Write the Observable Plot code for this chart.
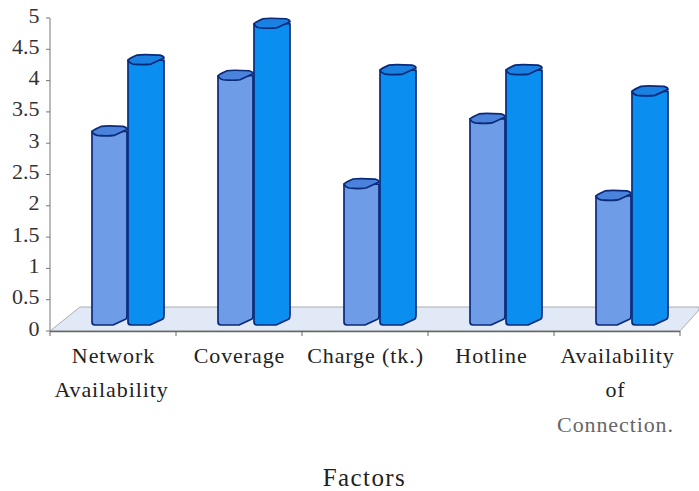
<!DOCTYPE html>
<html>
<head>
<meta charset="utf-8">
<script src="https://cdn.jsdelivr.net/npm/d3@7"></script>
<script src="https://cdn.jsdelivr.net/npm/@observablehq/plot@0.6"></script>
<style>
  html, body { margin: 0; padding: 0; background: #fff; }
  svg { display: block; }
  .category-label text { letter-spacing: 0.9px; }
  .axis-title text { letter-spacing: 1.4px; }
</style>
</head>
<body>
<script>
const factors = ["Network Availability", "Coverage", "Charge (tk.)", "Hotline", "Availability of Connection."];
const firstLine = ["Network", "Coverage", "Charge (tk.)", "Hotline", "Availability"];
const secondLine = ["Availability", "", "", "", "of"];
const thirdLine = ["", "", "", "", "Connection."];
const lightValues = [3.06, 3.95, 2.22, 3.26, 2.03];
const brightValues = [4.2, 4.78, 4.04, 4.04, 3.7];
const yTicks = [0, 0.5, 1, 1.5, 2, 2.5, 3, 3.5, 4, 4.5, 5];

const serif = "'Liberation Serif', serif";
const SVG = "http://www.w3.org/2000/svg";

function svgEl(name, attrs) {
  const el = document.createElementNS(SVG, name);
  for (const k in attrs) el.setAttribute(k, attrs[k]);
  return el;
}

// Raised floor plane behind the columns, with the category axis along its front edge.
function floorPlane(index, scales, values, dims) {
  const g = svgEl("g", {});
  const y0 = scales.y(0);
  const left = dims.marginLeft;
  const right = dims.width - dims.marginRight;
  g.append(svgEl("path", {
    d: `M${left},${y0}L${left + 30},${y0 - 24}H${dims.width}V${y0 - 21}L${right},${y0}Z`,
    fill: "#e1e9f7", stroke: "#a9adb3", "stroke-width": 1
  }));
  g.append(svgEl("path", {d: `M${left},${y0 + 0.5}H${right}`, stroke: "#666", "stroke-width": 1.3}));
  const band = (right - left) / factors.length;
  for (let i = 0; i <= factors.length; i++) {
    const x = left + band * i;
    g.append(svgEl("path", {d: `M${x},${y0}v5`, stroke: "#666", "stroke-width": 1}));
  }
  // Value axis line and its tick marks
  g.append(svgEl("path", {d: `M${left},${scales.y(5)}V${y0}`, stroke: "#777", "stroke-width": 1}));
  for (const v of yTicks) {
    g.append(svgEl("path", {d: `M${left - 4},${scales.y(v)}h4`, stroke: "#777", "stroke-width": 1}));
  }
  return g;
}

// A faceted column: the bar's scaled extent is drawn as a prism with a slanted top and foot.
function column(lead, barWidth, bodyFill, capFill) {
  return (index, scales, values) => {
    const g = svgEl("g", {});
    for (const i of index) {
      const x0 = values.x[i] + lead;
      const x1 = x0 + barWidth;
      const t = values.y2[i] - 8;
      const b = scales.y(0) - 8;
      g.append(svgEl("path", {
        d: `M${x0},${t}V${b - 1}Q${x0},${b + 2} ${x0 + 3},${b + 2}H${x1 - 14}L${x1 - 1},${b - 4}Q${x1},${b - 5} ${x1},${b - 8}V${t}Z`,
        fill: bodyFill, stroke: "#0b2a78", "stroke-width": 1.7, "stroke-linejoin": "round"
      }));
      g.append(svgEl("path", {
        d: `M${x0},${t}Q${x0 + 2},${t - 2} ${x0 + 9},${t - 5}Q${x0 + 14},${t - 6} ${x1 - 4},${t - 5}Q${x1},${t - 4} ${x1},${t - 2}L${x1 - 13},${t + 4}Q${x1 - 20},${t + 5} ${x0 + 5},${t + 4}Q${x0 + 1},${t + 3} ${x0},${t}Z`,
        fill: capFill, stroke: "#0b2a78", "stroke-width": 1.7, "stroke-linejoin": "round"
      }));
    }
    return g;
  };
}

const labelStyle = {fontFamily: serif, fontSize: 22, fill: "#222", className: "category-label"};
const rows = factors.map((f, i) => ({f, light: lightValues[i], bright: brightValues[i],
  a: firstLine[i], b: secondLine[i], c: thirdLine[i]}));

const chart = Plot.plot({
  width: 699,
  height: 491,
  marginLeft: 50,
  marginRight: 19,
  marginTop: 18,
  marginBottom: 160,
  style: {background: "#fff", overflow: "visible"},
  x: {domain: factors, padding: 0, label: null, axis: null},
  y: {domain: [0, 5], label: null, axis: null},
  marks: [
    Plot.ruleY([0], {render: floorPlane}),
    Plot.text(yTicks, {
      y: d => d, frameAnchor: "left", text: d => String(d), textAnchor: "end", dx: -11, dy: -3,
      fontFamily: serif, fontSize: 22, fill: "#333"
    }),
    Plot.barY(rows, {x: "f", y: "light", render: column(42, 35, "#6f9ce6", "#4a82dc")}),
    Plot.barY(rows, {x: "f", y: "bright", render: column(78, 36, "#0a8ff0", "#1a80e2")}),
    Plot.text(rows, {x: "f", text: "a", frameAnchor: "bottom", dy: 31, ...labelStyle}),
    Plot.text(rows, {x: "f", text: "b", frameAnchor: "bottom", dx: -2, dy: 65, ...labelStyle}),
    Plot.text(rows, {x: "f", text: "c", frameAnchor: "bottom", dx: -2, dy: 100, ...labelStyle, fill: "#666"}),
    Plot.text(["Factors"], {x: () => factors[2], frameAnchor: "bottom", dx: -1, dy: 154, fontFamily: serif, fontSize: 25, fill: "#222", className: "axis-title"})
  ]
});
document.body.append(chart);
</script>
</body>
</html>
